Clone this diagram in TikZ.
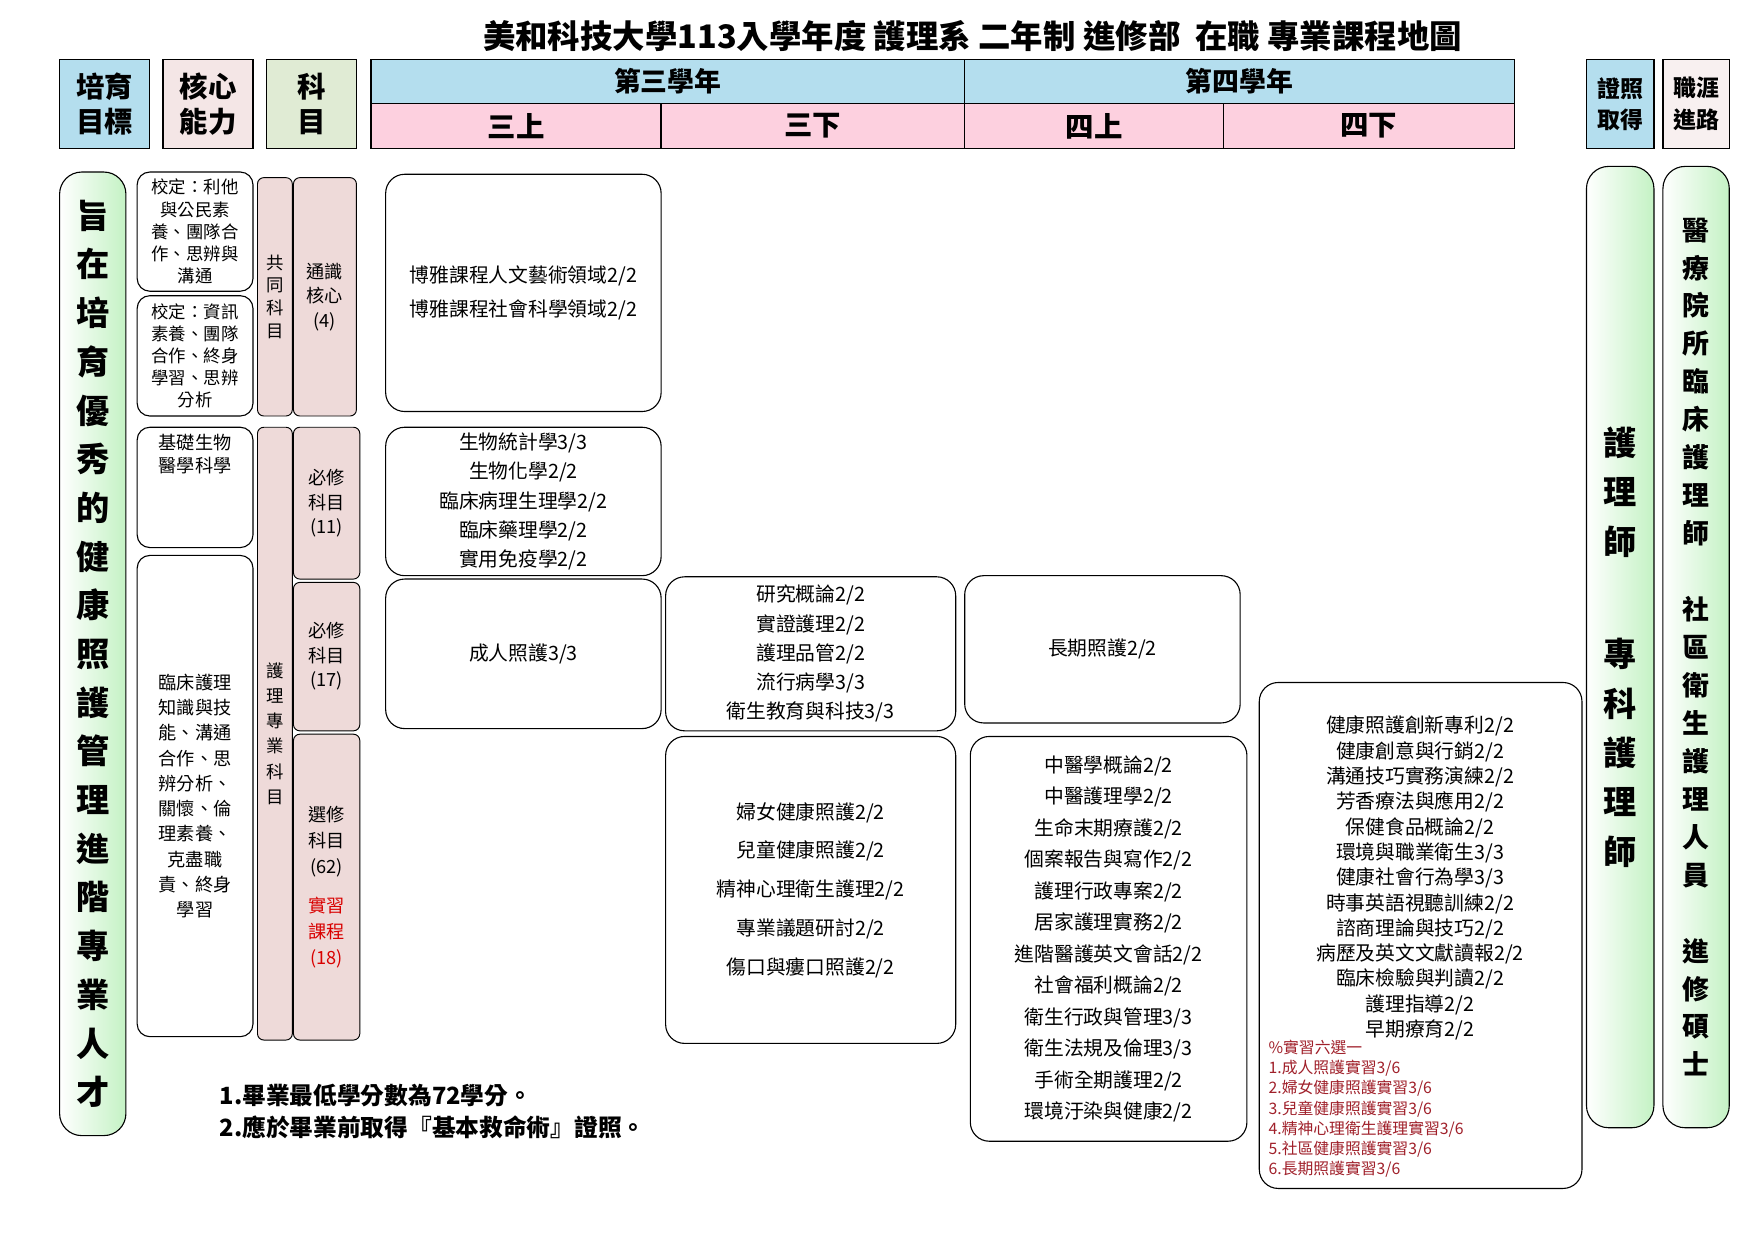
\documentclass[tikz,border=0pt]{standalone}
\usepackage{fontspec}
\setmainfont{Noto Sans CJK TC}
\usetikzlibrary{positioning}
\definecolor{hdblue}{HTML}{B4DEEE}
\definecolor{hdpink}{HTML}{FDD0DF}
\definecolor{hdrose}{HTML}{F4E6E6}
\definecolor{hdgreen}{HTML}{E0EBD4}
\definecolor{subj}{HTML}{EEDAD9}
\definecolor{colgreen}{HTML}{C4F2C4}
\definecolor{darkred}{HTML}{A0202A}
\tikzset{
  hbox/.style={draw, line width=0.8pt, inner sep=0pt, align=center, font=\fontsize{18}{22}\selectfont\bfseries},
  rbox/.style={draw, rounded corners=12pt, line width=0.7pt, inner sep=0pt, align=center, fill=white},
  sbox/.style={draw, rounded corners=4pt, line width=0.6pt, inner sep=0pt, align=center, fill=subj},
  gcol/.style={draw, rounded corners=14pt, line width=0.7pt, inner sep=0pt, align=center, left color=white, right color=colgreen},
  course/.style={font=\fontsize{12.5}{18.5}\selectfont},
}
% box from corner values: name, x1, y1, x2, y2, style, text
\newcommand{\cbox}[7]{%
  \node[#6, minimum width={(#4-#2)*0.025cm}, minimum height={(#5-#3)*0.025cm}]
    (#1) at ({(#2+#4)/2},{(#3+#5)/2}) {#7};}
\begin{document}
\begin{tikzpicture}[x=0.025cm, y=-0.025cm]
  \useasboundingbox (0,0) rectangle (1560,1103);

  \node[font=\fontsize{20.5}{24}\selectfont\bfseries] (title) at (865,32)
    {美和科技大學113入學年度 護理系 二年制 進修部\ \ 在職 專業課程地圖};

  % header
  \cbox{goal}{53}{53}{133}{132}{hbox, fill=hdblue}{培育\\目標}
  \cbox{core}{145}{53}{225}{132}{hbox, fill=hdrose}{核心\\能力}
  \cbox{subject}{237}{53}{317}{132}{hbox, fill=hdgreen}{科\\目}
  \cbox{yr3}{330}{53}{858}{92}{hbox, fill=hdblue, font=\fontsize{17}{20}\selectfont\bfseries}{第三學年}
  \cbox{yr4}{858}{53}{1347}{92}{hbox, fill=hdblue, font=\fontsize{17}{20}\selectfont\bfseries}{第四學年}
  \cbox{s31}{330}{92}{588}{132}{hbox, fill=hdpink}{三上}
  \cbox{s32}{588}{92}{858}{132}{hbox, fill=hdpink}{三下}
  \cbox{s41}{858}{92}{1088}{132}{hbox, fill=hdpink}{四上}
  \cbox{s42}{1088}{92}{1347}{132}{hbox, fill=hdpink}{四下}
  \cbox{lic}{1411}{53}{1471}{132}{hbox, fill=hdblue, font=\fontsize{14.5}{20}\selectfont\bfseries}{證照\\取得}
  \cbox{career}{1479}{53}{1538}{132}{hbox, fill=hdrose!60, font=\fontsize{14.5}{20}\selectfont\bfseries}{職涯\\進路}

  % goal column
  \cbox{aim}{53}{153}{112}{1010}{gcol, font=\fontsize{21}{30.8}\selectfont\bfseries}
    {旨\\在\\培\\育\\優\\秀\\的\\健\\康\\照\\護\\管\\理\\進\\階\\專\\業\\人\\才}

  % core abilities
  \cbox{ab1}{122}{153}{225}{259}{rbox, rounded corners=8pt, font=\fontsize{11}{14}\selectfont}{校定：利他\\與公民素\\養、團隊合\\作、思辨與\\溝通}
  \cbox{ab2}{122}{263}{225}{370}{rbox, rounded corners=8pt, font=\fontsize{11}{14}\selectfont}{校定：資訊\\素養、團隊\\合作、終身\\學習、思辨\\分析}
  \cbox{ab3}{122}{380}{225}{487}{rbox, rounded corners=8pt, font=\fontsize{11.5}{15}\selectfont}{基礎生物\\醫學科學\\[28pt]}
  \cbox{ab4}{122}{494}{225}{922}{rbox, rounded corners=8pt, font=\fontsize{11.5}{16}\selectfont}{臨床護理\\知識與技\\能、溝通\\合作、思\\辨分析、\\關懷、倫\\理素養、\\克盡職\\責、終身\\學習}

  % subject categories
  \cbox{common}{229}{158}{260}{370}{sbox, font=\fontsize{11}{14.5}\selectfont}{共\\同\\科\\目}
  \cbox{gen}{261}{158}{317}{370}{sbox, font=\fontsize{11.5}{15.5}\selectfont}{通識\\核心\\(4)}
  \cbox{prof}{229}{380}{260}{925}{sbox, font=\fontsize{11}{16}\selectfont}{護\\理\\專\\業\\科\\目}
  \cbox{req1}{261}{380}{320}{515}{sbox, font=\fontsize{11.5}{15.5}\selectfont}{必修\\科目\\(11)}
  \cbox{req2}{261}{518}{320}{650}{sbox, font=\fontsize{11.5}{15.5}\selectfont}{必修\\科目\\(17)}
  \cbox{elec}{261}{653}{320}{925}{sbox, font=\fontsize{11.5}{16.5}\selectfont}{選修\\科目\\(62)\\[8pt]\textcolor{red!85!black}{實習}\\\textcolor{red!85!black}{課程}\\\textcolor{red!85!black}{(18)}}

  % courses
  \cbox{liberal}{343}{155}{588}{366}{rbox, course, font=\fontsize{12.5}{21.5}\selectfont}{博雅課程人文藝術領域2/2\\博雅課程社會科學領域2/2}
  \cbox{basic}{343}{380}{588}{512}{rbox, course}{生物統計學3/3\\生物化學2/2\\臨床病理生理學2/2\\臨床藥理學2/2\\實用免疫學2/2}
  \cbox{adult}{343}{515}{588}{648}{rbox, course}{成人照護3/3}
  \cbox{research}{592}{513}{850}{650}{rbox, course}{研究概論2/2\\實證護理2/2\\護理品管2/2\\流行病學3/3\\衛生教育與科技3/3}
  \cbox{women}{592}{655}{850}{928}{rbox, course, font=\fontsize{12.5}{24.5}\selectfont}{婦女健康照護2/2\\兒童健康照護2/2\\精神心理衛生護理2/2\\專業議題研討2/2\\傷口與瘻口照護2/2}
  \cbox{ltc}{858}{512}{1103}{643}{rbox, course}{長期照護2/2}
  \cbox{tcm}{863}{655}{1109}{1015}{rbox, course, font=\fontsize{12.5}{19.9}\selectfont}{中醫學概論2/2\\中醫護理學2/2\\生命末期療護2/2\\個案報告與寫作2/2\\護理行政專案2/2\\居家護理實務2/2\\進階醫護英文會話2/2\\社會福利概論2/2\\衛生行政與管理3/3\\衛生法規及倫理3/3\\手術全期護理2/2\\環境汙染與健康2/2}
  \cbox{elective}{1120}{607}{1407}{1057}{rbox}{}
  \node[course, font=\fontsize{12.5}{16}\selectfont, align=center, anchor=north] (elist) at (1263,632)
    {健康照護創新專利2/2\\健康創意與行銷2/2\\溝通技巧實務演練2/2\\芳香療法與應用2/2\\保健食品概論2/2\\環境與職業衛生3/3\\健康社會行為學3/3\\時事英語視聽訓練2/2\\諮商理論與技巧2/2\\病歷及英文文獻讀報2/2\\臨床檢驗與判讀2/2\\護理指導2/2\\早期療育2/2};
  \node[font=\fontsize{10}{12.7}\selectfont, text=darkred, align=left, anchor=north west, inner sep=0pt] (prac) at (1128,925)
    {\%實習六選一\\1.成人照護實習3/6\\2.婦女健康照護實習3/6\\3.兒童健康照護實習3/6\\4.精神心理衛生護理實習3/6\\5.社區健康照護實習3/6\\6.長期照護實習3/6};

  % licences and careers
  \cbox{nurse}{1411}{148}{1471}{1003}{gcol, font=\fontsize{21}{31.2}\selectfont\bfseries}
    {護\\理\\師\\[40pt]專\\科\\護\\理\\師}
  \cbox{path}{1479}{148}{1538}{1003}{gcol, font=\fontsize{17}{24}\selectfont\bfseries}
    {醫\\療\\院\\所\\臨\\床\\護\\理\\師\\[24pt]社\\區\\衛\\生\\護\\理\\人\\員\\[24pt]進\\修\\碩\\士}

  % notes
  \node[font=\fontsize{15}{20}\selectfont\bfseries, align=left, anchor=north west, inner sep=0pt] (notes) at (195,964)
    {1.畢業最低學分數為72學分。\\2.應於畢業前取得『基本救命術』證照。};
\end{tikzpicture}
\end{document}
